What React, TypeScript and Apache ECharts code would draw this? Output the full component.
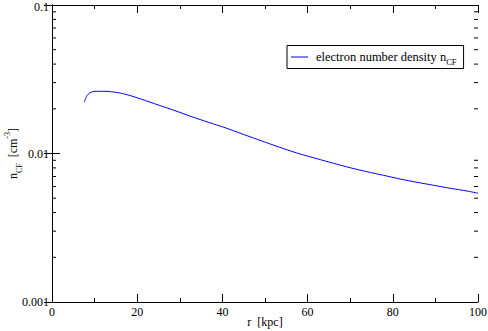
import React, { useEffect, useRef } from "react";
import * as echarts from "echarts";

const radius = [7.59, 8.15, 8.93, 10.1, 12.45, 15.57, 17.92, 21.07, 24.97, 28.89, 32.82, 36.72, 40.64, 44.56, 50.44, 54.33, 58.26, 62.18, 66.08, 70.0, 73.93, 77.83, 81.75, 85.67, 89.57, 93.49, 97.42, 100];
const density = [0.02213, 0.02438, 0.02567, 0.02623, 0.02623, 0.02567, 0.02476, 0.02317, 0.02121, 0.01942, 0.01769, 0.01622, 0.01492, 0.01357, 0.01181, 0.01079, 0.00992, 0.00923, 0.00859, 0.00802, 0.00754, 0.00713, 0.00673, 0.0064, 0.00611, 0.00583, 0.00559, 0.0054];
const minorLogTicks = [0.002, 0.003, 0.004, 0.005, 0.006, 0.007, 0.008, 0.009, 0.02, 0.03, 0.04, 0.05, 0.06, 0.07, 0.08, 0.09];
const seriesName = "electron number density n_CF";

const FONT = "'Liberation Serif', 'Times New Roman', serif";

export default function App() {
  const ref = useRef<HTMLDivElement>(null);
  useEffect(() => {
    const chart = echarts.init(ref.current!, null, { renderer: "svg" });
    const axisLine = { show: true, lineStyle: { color: "#000", width: 1 } };
    const tick = { show: true, inside: true, length: 8, lineStyle: { color: "#000", width: 1 } };
    const minor = { show: true, splitNumber: 2, length: 4, lineStyle: { color: "#000", width: 1 } };
    const label = { color: "#000", fontFamily: FONT, fontSize: 12 };
    const sub = { fontSize: 8, fontFamily: FONT, color: "#000", lineHeight: 8, verticalAlign: "bottom" };
    const sup = { fontSize: 8, fontFamily: FONT, color: "#000", lineHeight: 8, verticalAlign: "top" };
    chart.setOption({
      animation: false,
      backgroundColor: "#fff",
      textStyle: { fontFamily: FONT },
      grid: { left: 52, right: 10, top: 5, bottom: 29, outerBoundsMode: "none", containLabel: false },
      legend: {
        data: [{ name: seriesName, icon: "rect" }],
        left: 287,
        top: 45.5,
        orient: "vertical",
        backgroundColor: "#fff",
        borderColor: "#000",
        borderWidth: 1,
        borderRadius: 0,
        padding: [2.5, 7, 2.5, 4],
        itemWidth: 17,
        itemHeight: 1,
        itemGap: 0,
        formatter: () => "{m|electron number density n}{sub|CF}",
        textStyle: {
          color: "#000",
          fontFamily: FONT,
          fontSize: 12.5,
          lineHeight: 18,
          rich: {
            m: { fontSize: 12.5, fontFamily: FONT, color: "#000", lineHeight: 18, padding: [0, 0, 0, 3] },
            sub: { ...sub, fontSize: 8.5 },
          },
        },
      },
      xAxis: [
        {
          type: "value",
          min: 0,
          max: 100,
          interval: 20,
          position: "bottom",
          name: "r  [kpc]",
          nameLocation: "middle",
          nameGap: 13,
          nameMoveOverlap: false,
          nameTextStyle: { color: "#000", fontFamily: FONT, fontSize: 12, lineHeight: 14, verticalAlign: "top" },
          axisLine,
          axisTick: tick,
          minorTick: minor,
          splitLine: { show: false },
          axisLabel: { ...label, margin: 4 },
        },
        {
          type: "value",
          min: 0,
          max: 100,
          interval: 20,
          position: "top",
          axisLine,
          axisTick: tick,
          minorTick: minor,
          splitLine: { show: false },
          axisLabel: { show: false },
        },
      ],
      yAxis: [
        {
          type: "log",
          logBase: 10,
          min: 0.001,
          max: 0.1,
          position: "left",
          name: "n{sub|CF}  [cm{sup|-3}]",
          nameLocation: "middle",
          nameGap: 29,
          nameRotate: 90,
          nameMoveOverlap: false,
          nameTextStyle: {
            color: "#000",
            fontFamily: FONT,
            fontSize: 12,
            lineHeight: 20,
            rich: { sub, sup },
          },
          axisLine,
          axisTick: tick,
          splitLine: { show: false },
          axisLabel: {
            ...label,
            margin: 3,
            formatter: (v: number) => {
              const s = String(Number(v.toPrecision(3)));
              return v > 0.05 ? "{t|" + s + "}" : s;
            },
            rich: { t: { fontSize: 12, fontFamily: FONT, color: "#000", padding: [3, 0, 0, 0] } },
          },
        },
        {
          type: "log",
          logBase: 10,
          min: 0.001,
          max: 0.1,
          position: "right",
          axisLine,
          axisTick: tick,
          splitLine: { show: false },
          axisLabel: { show: false },
        },
      ],
      series: [
        {
          name: seriesName,
          type: "line",
          data: radius.map((r, i) => [r, density[i]]),
          showSymbol: false,
          symbol: "none",
          lineStyle: { color: "#0000ff", width: 1 },
          itemStyle: { color: "#0000ff" },
          smooth: 0.25,
        },
        {
          name: "minorTicks",
          type: "custom",
          silent: true,
          clip: false,
          data: minorLogTicks.map((v) => [0, v]),
          renderItem: (params: any, api: any) => {
            const v = api.value(1);
            const l = api.coord([0, v]);
            const r = api.coord([100, v]);
            const st = { stroke: "#000", lineWidth: 1 };
            return {
              type: "group",
              children: [
                { type: "line", shape: { x1: l[0], y1: l[1], x2: l[0] + 4, y2: l[1] }, style: st },
                { type: "line", shape: { x1: r[0], y1: r[1], x2: r[0] - 4, y2: r[1] }, style: st },
              ],
            };
          },
        },
      ],
    });
    return () => chart.dispose();
  }, []);
  return <div ref={ref} style={{ position: "fixed", left: 0, top: 0, width: 488, height: 331 }} />;
}
